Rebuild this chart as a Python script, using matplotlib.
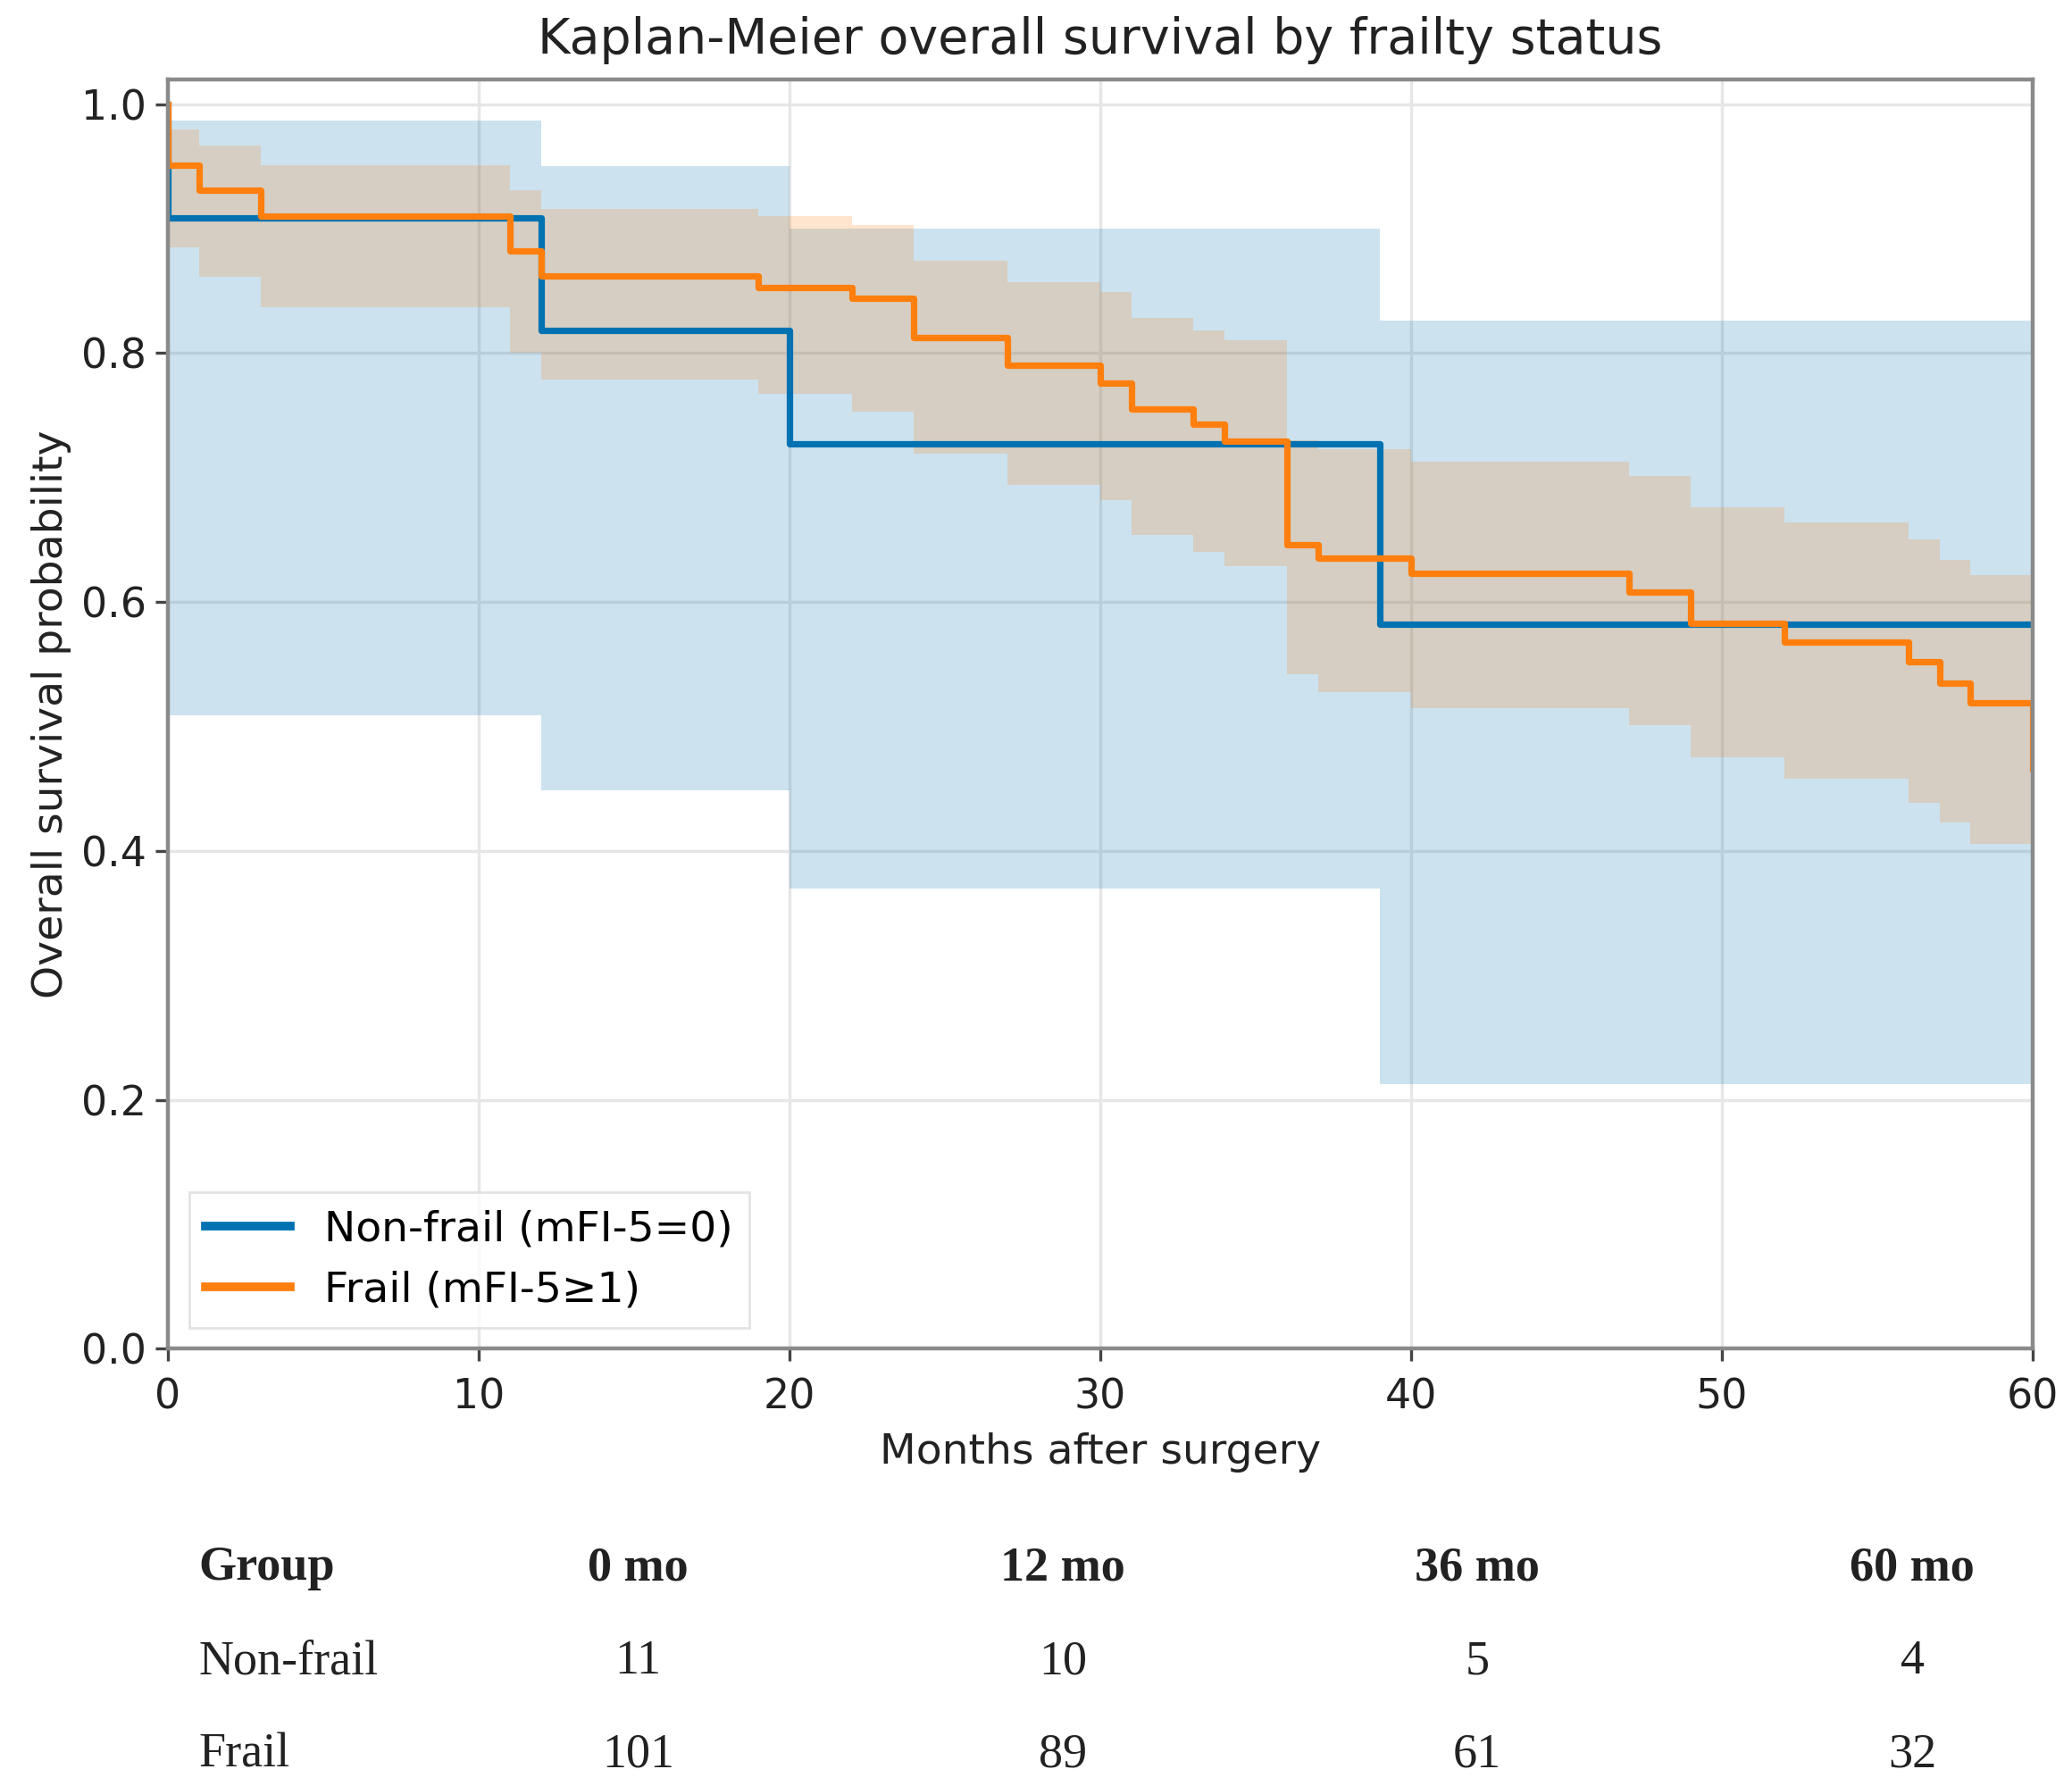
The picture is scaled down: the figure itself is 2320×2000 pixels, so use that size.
import numpy as np
import matplotlib.pyplot as plt

# Kaplan-Meier estimates (months, survival, 95% CI)
nf_t = [0, 0, 12, 20, 39, 60]
nf_s = [1.0, 0.909, 0.818, 0.727, 0.582, 0.582]
nf_hi = [1.0, 0.987, 0.950, 0.900, 0.826, 0.826]
nf_lo = [1.0, 0.509, 0.449, 0.370, 0.213, 0.213]

fr_t = [0, 0, 1, 3, 11, 12, 19, 22, 24, 27, 30, 31, 33, 34, 36, 37,
        40, 47, 49, 52, 56, 57, 58, 60]
fr_s = [1.0, 0.951, 0.931, 0.910, 0.882, 0.862, 0.853, 0.844, 0.8125,
        0.790, 0.776, 0.755, 0.743, 0.729, 0.646, 0.635, 0.623, 0.608,
        0.583, 0.568, 0.552, 0.535, 0.519, 0.467]
fr_hi = [1.0, 0.980, 0.967, 0.951, 0.931, 0.916, 0.910, 0.903, 0.874,
         0.857, 0.849, 0.828, 0.818, 0.810, 0.730, 0.723, 0.713, 0.701,
         0.676, 0.664, 0.650, 0.634, 0.622, 0.622]
fr_lo = [1.0, 0.885, 0.861, 0.837, 0.800, 0.779, 0.767, 0.753, 0.719,
         0.694, 0.682, 0.654, 0.640, 0.629, 0.542, 0.528, 0.515, 0.501,
         0.475, 0.458, 0.439, 0.423, 0.406, 0.406]

# number at risk table
risk_cols = ['Group', '0 mo', '12 mo', '36 mo', '60 mo']
risk_nonfrail = ['Non-frail', '11', '10', '5', '4']
risk_frail = ['Frail', '101', '89', '61', '32']

blue = '#0072B2'
orange = '#ff7f0e'

fig = plt.figure(figsize=(11.6, 10), dpi=200)
ax = fig.add_axes([0.081, 0.2448, 0.9, 0.7108])

ax.fill_between(nf_t, nf_lo, nf_hi, step='post', color=blue, alpha=0.2, lw=0)
ax.fill_between(fr_t, fr_lo, fr_hi, step='post', color=orange, alpha=0.2, lw=0)
ax.step(nf_t, nf_s, where='post', color=blue, lw=2.6, label='Non-frail (mFI-5=0)')
ax.step(fr_t, fr_s, where='post', color=orange, lw=2.6, label='Frail (mFI-5≥1)')

ax.set_xlim(0, 60)
ax.set_ylim(0, 1.02)
ax.set_xticks(np.arange(0, 61, 10))
ax.set_yticks(np.arange(0, 1.01, 0.2))
ax.set_yticklabels(['0.0', '0.2', '0.4', '0.6', '0.8', '1.0'])
ax.grid(True, color='#e6e6e6', lw=1.2)
ax.set_axisbelow(True)
for s in ax.spines.values():
    s.set_color('#8a8a8a')
    s.set_linewidth(1.6)
ax.tick_params(labelsize=16.5, length=5, width=1.2, color='#444444', labelcolor='#222222')
ax.tick_params(axis='x', pad=6.5)

ax.set_xlabel('Months after surgery', fontsize=17, color='#222222', labelpad=6)
ax.set_ylabel('Overall survival probability', fontsize=17, color='#222222')
ax.set_title('Kaplan-Meier overall survival by frailty status', fontsize=20,
             color='#222222', pad=10.5)
leg = ax.legend(loc='lower left', fontsize=17, handlelength=2.0,
                frameon=True, fancybox=False, borderaxespad=0.5)
leg.get_frame().set_edgecolor('#dddddd')
for line in leg.get_lines():
    line.set_linewidth(3.5)

# at-risk table below the plot
col_x = [0.0957, 0.308, 0.513, 0.713, 0.923]
row_y = [0.122, 0.0695, 0.0175]
rows = [risk_cols, risk_nonfrail, risk_frail]
for r, row in enumerate(rows):
    for c, txt in enumerate(row):
        fig.text(col_x[c], row_y[r], txt, family='Liberation Serif',
                 fontsize=19.5, fontweight='bold' if r == 0 else 'normal',
                 ha='left' if c == 0 else 'center', va='center', color='#222222')

fig.savefig('out.png', dpi=200)
